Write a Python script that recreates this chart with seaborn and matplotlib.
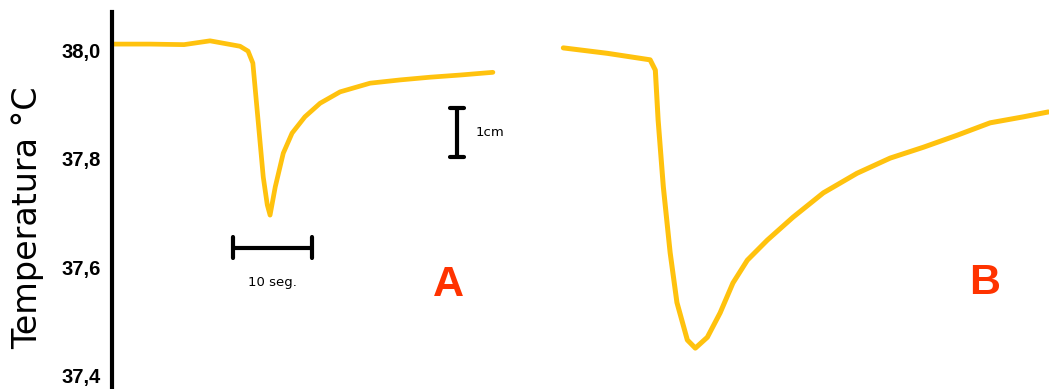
import matplotlib
matplotlib.use("Agg")
import matplotlib.pyplot as plt
import seaborn as sns
import numpy as np
import pandas as pd

# Trace A: time (s) and temperature (°C)
time_a = [0.0, 4.75, 9.0, 12.25, 16.0, 17.0, 17.6, 18.25, 18.9, 19.4, 19.75,
          20.4, 21.4, 22.5, 24.1, 26.0, 28.5, 32.25, 36.0, 39.75, 43.5, 47.6]
temp_a = [38.011, 38.011, 38.010, 38.017, 38.007, 37.998, 37.976, 37.871, 37.766,
          37.715, 37.696, 37.748, 37.810, 37.847, 37.877, 37.902, 37.923, 37.939,
          37.945, 37.950, 37.954, 37.959]

# Trace B: time (s) and temperature (°C)
time_b = [56.4, 61.9, 67.25, 67.9, 68.25, 68.9, 69.75, 70.6, 71.9, 72.9, 74.4,
          76.0, 77.6, 79.4, 81.9, 85.1, 88.9, 93.1, 97.25, 101.4, 105.6, 109.75,
          113.9, 117.0]
temp_b = [38.004, 37.994, 37.982, 37.963, 37.871, 37.748, 37.627, 37.535, 37.466,
          37.451, 37.471, 37.516, 37.571, 37.613, 37.650, 37.692, 37.737, 37.773,
          37.801, 37.821, 37.843, 37.866, 37.877, 37.886]

ytick_values = [38.0, 37.8, 37.6, 37.4]
ytick_labels = ["38,0", "37,8", "37,6", "37,4"]

sns.set_style("white")
plt.rcParams['font.family'] = ['DejaVu Sans']

fig = plt.figure(figsize=(10.49, 3.89), dpi=100)
ax = fig.add_axes([0.1068, 0.0, 0.8932, 0.969])

trace_color = "#FFC20E"
df_a = pd.DataFrame({"t": time_a, "T": temp_a})
df_b = pd.DataFrame({"t": time_b, "T": temp_b})
sns.lineplot(data=df_a, x="t", y="T", ax=ax, color=trace_color, lw=3.4, sort=False)
sns.lineplot(data=df_b, x="t", y="T", ax=ax, color=trace_color, lw=3.6, sort=False)

ax.set_xlim(0, 117.1)
ax.set_ylim(37.3757, 38.070)

for s in ["top", "right", "bottom"]:
    ax.spines[s].set_visible(False)
ax.spines["left"].set_color("black")
ax.spines["left"].set_linewidth(3)

ax.set_xticks([])
ax.set_yticks(ytick_values)
ax.set_yticklabels(ytick_labels, fontsize=14.5, fontweight="bold", color="black",
                   family=["Liberation Sans", "DejaVu Sans"])
ax.tick_params(axis="y", length=0, pad=8, labelcolor="black")
ax.set_xlabel("")
ax.set_ylabel("Temperatura °C", fontsize=24, color="black")
ax.yaxis.set_label_coords(-0.073, 0.455)

# Vertical scale bar (1cm)
ax.plot([43.1, 43.1], [37.893, 37.803], color="black", lw=3)
ax.plot([42.2, 44.0], [37.893, 37.893], color="black", lw=3)
ax.plot([42.2, 44.0], [37.803, 37.803], color="black", lw=3)
ax.text(45.4, 37.848, "1cm", fontsize=9.5, va="center", ha="left", color="black")

# Horizontal scale bar (10 seg.)
ax.plot([15.1, 25.0], [37.635, 37.635], color="black", lw=3)
ax.plot([15.1, 15.1], [37.656, 37.617], color="black", lw=3)
ax.plot([25.0, 25.0], [37.656, 37.617], color="black", lw=3)
ax.text(20.0, 37.571, "10 seg.", fontsize=9.5, va="center", ha="center", color="black")

ax.text(42.0, 37.567, "A", fontsize=31, fontweight="bold", color="#FF3300",
        ha="center", va="center", family=["Liberation Sans", "DejaVu Sans"])
ax.text(109.1, 37.571, "B", fontsize=31, fontweight="bold", color="#FF3300",
        ha="center", va="center", family=["Liberation Sans", "DejaVu Sans"])

fig.savefig("out.png", dpi=100)
